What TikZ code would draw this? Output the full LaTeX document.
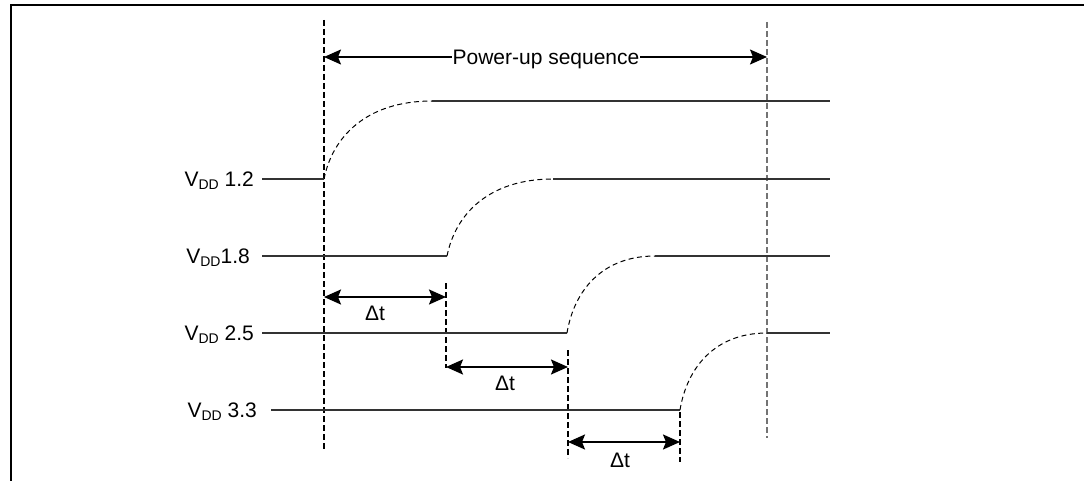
\documentclass[tikz,border=0pt]{standalone}
\usepackage{fontspec}
\setmainfont{Liberation Sans}
\usetikzlibrary{arrows.meta}
\newcommand{\vdd}{V\raisebox{-0.3ex}{\fontsize{14}{14}\selectfont DD}}
\begin{document}
\begin{tikzpicture}[x=1pt,y=-1pt,
  sig/.style={draw=black!80, line width=1.1pt},
  rise/.style={draw=black, line width=1pt, dash pattern=on 5pt off 3.5pt},
  guideblack/.style={draw=black, line width=1.1pt, dash pattern=on 6pt off 3pt},
  guidegray/.style={draw=black!55, line width=1.7pt, dash pattern=on 6pt off 3pt},
  tip/.tip={Stealth[length=17pt,width=15pt,inset=3pt]},
  dimarrow/.style={tip-tip, line width=2pt},
  lbl/.style={font=\fontsize{21}{21}\selectfont, inner sep=0pt, text height=15pt, text depth=0pt}
]
\useasboundingbox (0,0) rectangle (1084,481);
% frame
\draw[line width=2.4pt] (11,481) -- (11,5) -- (1084,5);

% guides
\coordinate (gAt) at (324,20);   \coordinate (gAb) at (324,450);
\coordinate (gBt) at (767,22);   \coordinate (gBb) at (767,438);
\coordinate (g1t) at (446,283);  \coordinate (g1b) at (446,368);
\coordinate (g2t) at (568,350);  \coordinate (g2b) at (568,458);
\coordinate (g3t) at (680,412);  \coordinate (g3b) at (680,462);
\draw[guideblack] (gAt) -- (gAb);
\draw[guidegray] (gBt) -- (gBb);
\draw[guideblack] (g1t) -- (g1b);
\draw[guideblack] (g2t) -- (g2b);
\draw[guideblack] (g3t) -- (g3b);

% power-up sequence
\coordinate (pL) at (324,57); \coordinate (pR) at (767,57);
\draw[tip-tip, line width=1.4pt] (pL) -- (pR);
\node[lbl, fill=white, inner xsep=0.5pt] (pu) at (546,57) {Power-up sequence};

% VDD 1.2
\node[lbl, anchor=east] (l12) at (254,179) {\vdd\ 1.2};
\coordinate (s12) at (324,179); \coordinate (e12) at (432,101); \coordinate (f12) at (830,101);
\draw[sig] ([xshift=8pt]l12.east) -- (s12);
\draw[rise] (s12) .. controls (332.6,136.1) and (367.2,101) .. (e12);
\draw[sig] (e12) -- (f12);

% VDD 1.8
\node[lbl, anchor=east] (l18) at (250,256) {\vdd1.8};
\coordinate (s18) at (447,256); \coordinate (e18) at (553,179); \coordinate (f18) at (830,179);
\draw[sig] ([xshift=12pt]l18.east) -- (s18);
\draw[rise] (s18) .. controls (455.5,213.6) and (489.4,179) .. (e18);
\draw[sig] (e18) -- (f18);

% VDD 2.5
\node[lbl, anchor=east] (l25) at (254,333) {\vdd\ 2.5};
\coordinate (s25) at (567,333); \coordinate (e25) at (655,256); \coordinate (f25) at (830,256);
\draw[sig] ([xshift=8pt]l25.east) -- (s25);
\draw[rise] (s25) .. controls (574,290.6) and (602.2,256) .. (e25);
\draw[sig] (e25) -- (f25);

% VDD 3.3
\node[lbl, anchor=east] (l33) at (257,410) {\vdd\ 3.3};
\coordinate (s33) at (680,410); \coordinate (e33) at (767,333); \coordinate (f33) at (830,333);
\draw[sig] ([xshift=14pt]l33.east) -- (s33);
\draw[rise] (s33) .. controls (687,367.6) and (714.8,333) .. (e33);
\draw[sig] (e33) -- (f33);

% delta t arrows
\coordinate (d1L) at (324,297); \coordinate (d1R) at (446,297);
\coordinate (d2L) at (446,367); \coordinate (d2R) at (568,367);
\coordinate (d3L) at (568,442); \coordinate (d3R) at (680,442);
\draw[dimarrow] (d1L) -- (d1R);
\draw[dimarrow] (d2L) -- (d2R);
\draw[dimarrow] (d3L) -- (d3R);
\node[lbl] (dt1) at (375,313) {Δt};
\node[lbl] (dt2) at (505,383) {Δt};
\node[lbl] (dt3) at (620,460) {Δt};
\end{tikzpicture}
\end{document}
